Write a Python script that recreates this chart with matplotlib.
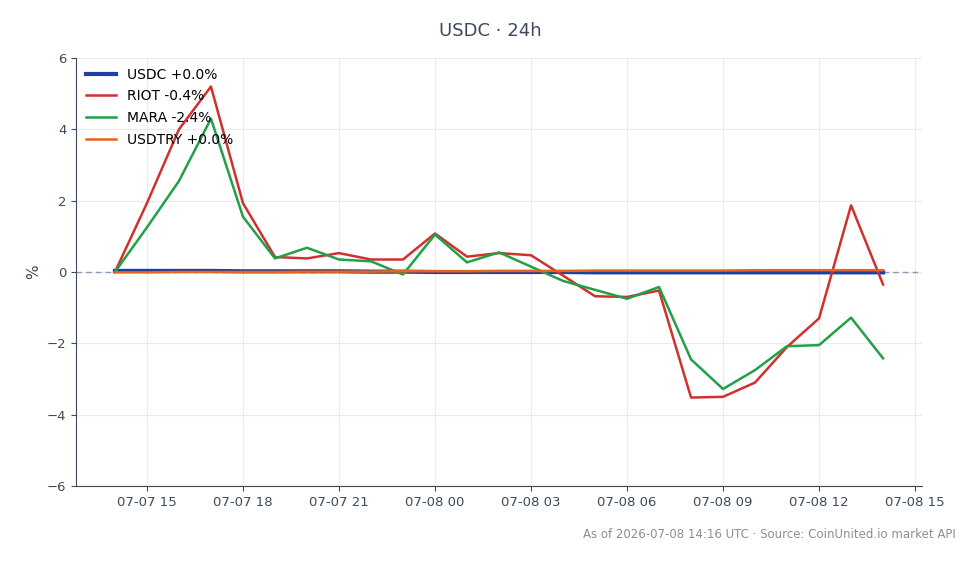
import pandas as pd
import matplotlib
matplotlib.use('Agg')
import matplotlib.pyplot as plt
import matplotlib.dates as mdates

# hourly timestamps, 24h window
times = pd.date_range('2026-07-07 14:00', '2026-07-08 14:00', freq='h')

# % change from start of window
usdc = [0.03, 0.03, 0.03, 0.03, 0.02, 0.02, 0.02, 0.02, 0.01, 0.01, 0.0, 0.0, 0.0,
        0.0, 0.0, -0.01, -0.01, -0.01, -0.01, -0.01, -0.01, -0.01, -0.01, -0.01, -0.01]
riot = [0.0, 1.93, 4.0, 5.2, 1.93, 0.42, 0.38, 0.53, 0.35, 0.35, 1.08, 0.43, 0.53,
        0.47, -0.1, -0.68, -0.7, -0.52, -3.52, -3.5, -3.1, -2.1, -1.3, 1.87, -0.35]
mara = [0.0, 1.25, 2.55, 4.3, 1.55, 0.38, 0.68, 0.35, 0.3, -0.07, 1.05, 0.27, 0.55,
        0.15, -0.25, -0.5, -0.75, -0.42, -2.45, -3.28, -2.75, -2.08, -2.05, -1.28, -2.42]
usdtry = [-0.01, -0.01, 0.0, 0.0, 0.0, 0.0, 0.01, 0.01, 0.01, 0.02, 0.02, 0.02, 0.03,
          0.03, 0.03, 0.04, 0.04, 0.04, 0.04, 0.04, 0.05, 0.05, 0.05, 0.05, 0.05]

labels = ['USDC +0.0%', 'RIOT -0.4%', 'MARA -2.4%', 'USDTRY +0.0%']
colors = ['#1f3fa0', '#d0312d', '#23a047', '#e8641b']

fig = plt.figure(figsize=(9.8, 5.64), dpi=100)
ax = fig.add_axes([76 / 980, 1 - 486 / 564, (922 - 76) / 980, (486 - 58) / 564])

ax.axhline(0, color='#8a9ab0', lw=1, ls=(0, (4, 3)), zorder=1)
ax.plot(times, usdc, color=colors[0], lw=3, label=labels[0], zorder=3)
ax.plot(times, riot, color=colors[1], lw=1.8, label=labels[1], zorder=3)
ax.plot(times, mara, color=colors[2], lw=1.8, label=labels[2], zorder=3)
ax.plot(times, usdtry, color=colors[3], lw=1.8, label=labels[3], zorder=4)

ax.set_ylim(-6, 6)
ax.set_yticks([-6, -4, -2, 0, 2, 4, 6])
ax.set_yticklabels(['\u22126', '\u22124', '\u22122', '0', '2', '4', '6'])
ax.set_xlim(pd.Timestamp('2026-07-07 12:47'), pd.Timestamp('2026-07-08 15:13'))
ax.xaxis.set_major_locator(mdates.HourLocator(byhour=[0, 3, 6, 9, 12, 15, 18, 21]))
ax.xaxis.set_major_formatter(mdates.DateFormatter('%m-%d %H'))
ax.set_ylabel('%', color='#3d4a5c', fontsize=11)

ax.grid(True, color='#e8ebef', lw=0.8)
ax.set_axisbelow(True)
for s in ['top', 'right']:
    ax.spines[s].set_visible(False)
for s in ['left', 'bottom']:
    ax.spines[s].set_color('#3d4a5c')
ax.tick_params(colors='#3d4a5c', labelsize=9.5)

ax.legend(loc='upper left', frameon=False, fontsize=10, handlelength=2.2,
          borderaxespad=0.3, labelspacing=0.55)

fig.text(0.5, 1 - 31 / 564, 'USDC \u00b7 24h', ha='center', va='center',
         fontsize=13, color='#3d4a5c')
fig.text(956 / 980, 1 - 534 / 564,
         'As of 2026-07-08 14:16 UTC \u00b7 Source: CoinUnited.io market API',
         ha='right', va='center', fontsize=8.5, color='#8a8f98')

fig.savefig('out.png', dpi=100)
